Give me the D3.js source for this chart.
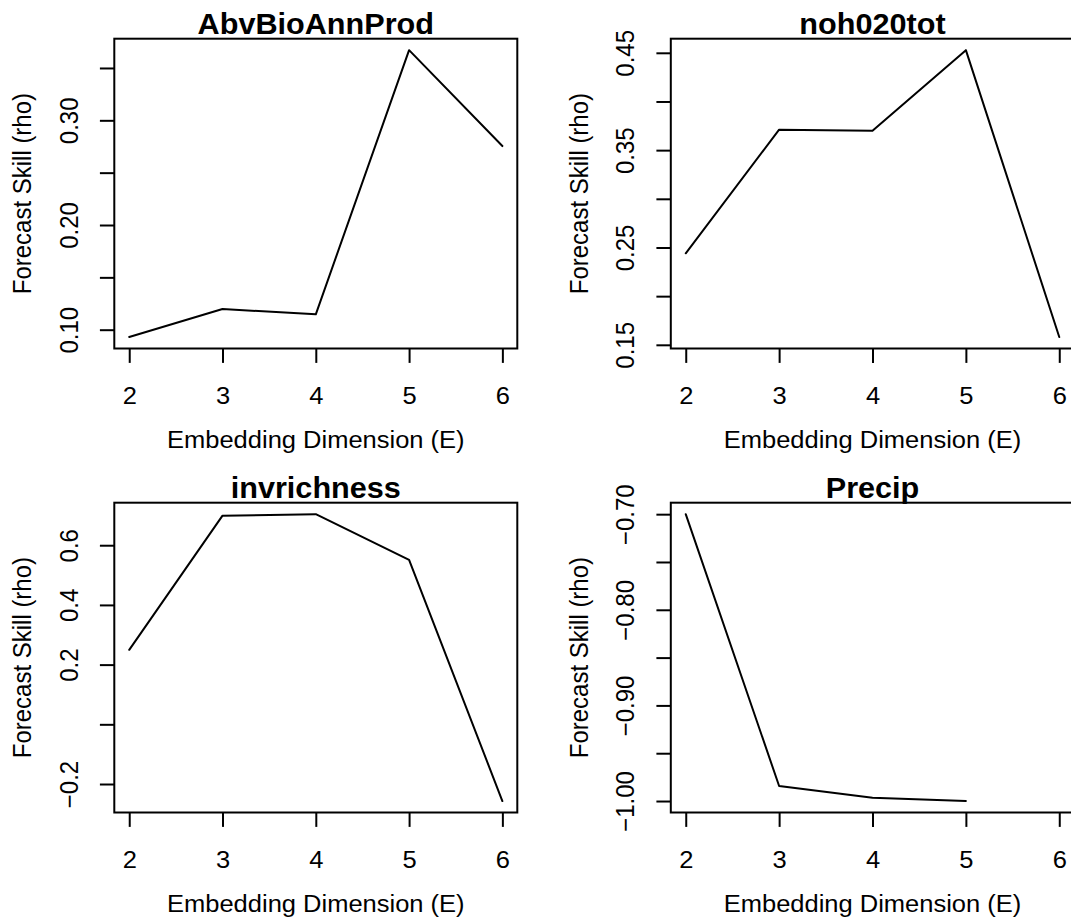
<!DOCTYPE html>
<html>
<head>
<meta charset="utf-8">
<script src="https://cdn.jsdelivr.net/npm/d3@7"></script>
<style>
  html, body { margin: 0; padding: 0; background: #fff; }
  svg { display: block; font-family: "Liberation Sans", Arial, Helvetica, sans-serif; }
</style>
</head>
<body>
<svg id="chart" width="1071" height="922"></svg>
<script>
// Embedding dimensions tested
const embeddingDims = [2, 3, 4, 5, 6];
const xTickValues = [2, 3, 4, 5, 6];

// Forecast skill (rho) per variable, one value per embedding dimension
const abvBioAnnProd = [0.093, 0.1197, 0.1147, 0.367, 0.2754];
const noh020tot     = [0.244, 0.371, 0.370, 0.4527, 0.158];
const invrichness   = [0.2496, 0.699, 0.704, 0.551, -0.257];
const precip        = [-0.700, -0.9843, -0.9966, -1.000, null];

// Panel titles
const panelTitles = ["AbvBioAnnProd", "noh020tot", "invrichness", "Precip"];

// y-axis ticks and which of them carry a label
const yTicksAbv   = [0.10, 0.15, 0.20, 0.25, 0.30, 0.35];
const yLabelsAbv  = ["0.10", "", "0.20", "", "0.30", ""];
const yTicksNoh   = [0.15, 0.20, 0.25, 0.30, 0.35, 0.40, 0.45];
const yLabelsNoh  = ["0.15", "", "0.25", "", "0.35", "", "0.45"];
const yTicksInv   = [-0.2, 0.0, 0.2, 0.4, 0.6];
const yLabelsInv  = ["\u22120.2", "", "0.2", "0.4", "0.6"];
const yTicksPre   = [-1.00, -0.95, -0.90, -0.85, -0.80, -0.75, -0.70];
const yLabelsPre  = ["\u22121.00", "", "\u22120.90", "", "\u22120.80", "", "\u22120.70"];

const xAxisTitle = "Embedding Dimension (E)";
const yAxisTitle = "Forecast Skill (rho)";

// Panel frames (plot region in pixels)
const cols = [{ left: 114.3, right: 517.3 }, { left: 670.8, right: 1074.2 }];
const rows = [{ top: 38.7, bottom: 348.5 }, { top: 502.7, bottom: 812.5 }];

const panels = [
  { title: panelTitles[0], values: abvBioAnnProd, ticks: yTicksAbv, labels: yLabelsAbv, col: 0, row: 0 },
  { title: panelTitles[1], values: noh020tot,     ticks: yTicksNoh, labels: yLabelsNoh, col: 1, row: 0 },
  { title: panelTitles[2], values: invrichness,   ticks: yTicksInv, labels: yLabelsInv, col: 0, row: 1 },
  { title: panelTitles[3], values: precip,        ticks: yTicksPre, labels: yLabelsPre, col: 1, row: 1 }
];

const FONT = 24;
const TITLE_FONT = 28.8;
const TICK_LEN = 14.4;
const LW = 2;
const SX = 1.063;   // horizontal stretch applied to all text
const FAMILY = "'Liberation Sans', Arial, Helvetica, sans-serif";

// Range padded by 4% on each side, like R's default axis style
function padded(lo, hi) {
  const p = (hi - lo) * 0.04;
  return [lo - p, hi + p];
}

const svg = d3.select("#chart");

panels.forEach(p => {
  const { left: L, right: R } = cols[p.col];
  const { top: T, bottom: B } = rows[p.row];
  const g = svg.append("g");

  const x = d3.scaleLinear()
    .domain(padded(d3.min(embeddingDims), d3.max(embeddingDims)))
    .range([L, R]);
  const vals = p.values.filter(v => v != null);
  const y = d3.scaleLinear()
    .domain(padded(d3.min(vals), d3.max(vals)))
    .range([B, T]);

  // x axis
  const xa = g.append("g")
    .attr("transform", `translate(0,${B})`)
    .call(d3.axisBottom(x).tickValues(xTickValues).tickSize(TICK_LEN).tickSizeOuter(0).tickFormat(d3.format("d")));
  xa.select(".domain").remove();
  xa.selectAll(".tick line").attr("stroke", "#000").attr("stroke-width", LW);
  xa.selectAll(".tick text")
    .attr("y", null).attr("dy", null)
    .attr("transform", `translate(0,55.3) scale(${SX},1)`)
    .attr("fill", "#000")
    .style("font-size", FONT + "px")
    .style("font-family", FAMILY);

  // y axis
  const ya = g.append("g")
    .attr("transform", `translate(${L},0)`)
    .call(d3.axisLeft(y).tickValues(p.ticks).tickSize(TICK_LEN).tickSizeOuter(0)
      .tickFormat((d, i) => p.labels[i]));
  ya.select(".domain").remove();
  ya.selectAll(".tick line").attr("stroke", "#000").attr("stroke-width", LW);
  ya.selectAll(".tick text")
    .attr("x", null).attr("dy", null)
    .attr("text-anchor", "middle")
    .attr("transform", `translate(-36.7,0) scale(${SX},1) rotate(-90)`)
    .attr("fill", "#000")
    .style("font-size", FONT + "px")
    .style("font-family", FAMILY);

  // series line
  const line = d3.line()
    .defined(d => d[1] != null)
    .x(d => x(d[0]))
    .y(d => y(d[1]));
  g.append("path")
    .datum(embeddingDims.map((e, i) => [e, p.values[i]]))
    .attr("d", line)
    .attr("fill", "none")
    .attr("stroke", "#000")
    .attr("stroke-width", LW)
    .attr("stroke-linejoin", "round")
    .attr("stroke-linecap", "round");

  // plot frame
  g.append("rect")
    .attr("x", L).attr("y", T)
    .attr("width", R - L).attr("height", B - T)
    .attr("fill", "none")
    .attr("stroke", "#000")
    .attr("stroke-width", LW);

  // panel title
  g.append("text")
    .attr("transform", `translate(${(L + R) / 2},${T - 4.5}) scale(${SX},1)`)
    .attr("text-anchor", "middle")
    .style("font-size", TITLE_FONT + "px")
    .style("font-weight", "bold")
    .text(p.title);

  // axis titles
  g.append("text")
    .attr("transform", `translate(${(L + R) / 2},${B + 99.5}) scale(${SX},1)`)
    .attr("text-anchor", "middle")
    .style("font-size", FONT + "px")
    .text(xAxisTitle);
  g.append("text")
    .attr("transform", `translate(${L - 83},${(T + B) / 2}) scale(${SX},1) rotate(-90)`)
    .attr("text-anchor", "middle")
    .style("font-size", FONT + "px")
    .text(yAxisTitle);
});
</script>
</body>
</html>
